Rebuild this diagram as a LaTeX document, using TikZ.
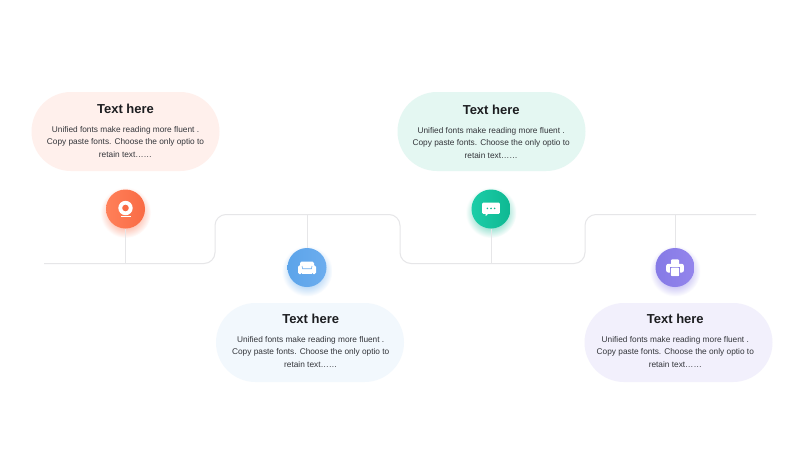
\documentclass[tikz,border=0pt]{standalone}
\usepackage{fontspec}
\setmainfont{Liberation Sans}
\usetikzlibrary{shapes.misc}
\definecolor{busgray}{HTML}{E6E6E8}
\definecolor{titleink}{HTML}{1C1D20}
\definecolor{bodyink}{HTML}{33353A}
\definecolor{pillred}{HTML}{FFF0EC}
\definecolor{pillblue}{HTML}{F2F8FD}
\definecolor{pillgreen}{HTML}{E4F7F2}
\definecolor{pillviolet}{HTML}{F2F0FC}
\definecolor{redlo}{HTML}{FF8059}
\definecolor{redhi}{HTML}{F96B45}
\definecolor{bluelo}{HTML}{5CA4EA}
\definecolor{bluehi}{HTML}{6CADEE}
\definecolor{greenlo}{HTML}{0EB892}
\definecolor{greenhi}{HTML}{1CCDA8}
\definecolor{violetlo}{HTML}{857AE6}
\definecolor{violethi}{HTML}{9485EC}
\tikzset{
  pill/.style={rounded rectangle,minimum width=188pt,minimum height=79pt,inner sep=0pt},
  titletext/.style={inner sep=0pt,text=titleink,font=\fontsize{13}{15}\selectfont\bfseries},
  bodytext/.style={inner sep=0pt,align=center,text=bodyink,font=\fontsize{8.3}{12.6}\selectfont},
  iconball/.style={circle,minimum size=39pt,inner sep=0pt,shading angle=45},
  busline/.style={draw=busgray,line width=1pt},
}
\begin{document}
\begin{tikzpicture}[x=1pt,y=-1pt]
  \fill[white] (0,0) rectangle (800,450);
  \useasboundingbox (0,0) rectangle (800,450);
  % pills
  \node[pill,fill=pillred] (pillA) at (125.5,131.5) {};
  \node[pill,fill=pillblue] (pillB) at (310,342.5) {};
  \node[pill,fill=pillgreen] (pillC) at (491.5,131.5) {};
  \node[pill,fill=pillviolet] (pillD) at (678.5,342.5) {};
  % titles and text
  \node[titletext] (titleA) at (125.5,108.5) {Text here};
  \node[titletext] (titleB) at (310.7,318.5) {Text here};
  \node[titletext] (titleC) at (491.2,109.5) {Text here};
  \node[titletext] (titleD) at (675.3,318.5) {Text here};
  \node[bodytext] (bodyA) at (125.5,142) {Unified fonts make reading more fluent .\\Copy paste fonts. Choose the only optio to\\retain text……};
  \node[bodytext] (bodyB) at (310.7,352) {Unified fonts make reading more fluent .\\Copy paste fonts. Choose the only optio to\\retain text……};
  \node[bodytext] (bodyC) at (491.2,143) {Unified fonts make reading more fluent .\\Copy paste fonts. Choose the only optio to\\retain text……};
  \node[bodytext] (bodyD) at (675.3,352) {Unified fonts make reading more fluent .\\Copy paste fonts. Choose the only optio to\\retain text……};
  % bus line
  \coordinate (busstart) at (44,263.5);
  \coordinate (turnA) at (215,263.5);
  \coordinate (turnB) at (215,214.5);
  \coordinate (turnC) at (400,214.5);
  \coordinate (turnD) at (400,263.5);
  \coordinate (turnE) at (585,263.5);
  \coordinate (turnF) at (585,214.5);
  \coordinate (busend) at (756,214.5);
  \coordinate (footA) at (125.5,263.5);
  \coordinate (footB) at (307,214.5);
  \coordinate (footC) at (491,263.5);
  \coordinate (footD) at (675,214.5);
  % halos
  \shade[inner color=redhi,outer color=white] (125.5,212.5) circle (25.5);
  \shade[inner color=bluelo,outer color=white] (307,271) circle (25.5);
  \shade[inner color=greenlo,outer color=white] (491,212.5) circle (25.5);
  \shade[inner color=violetlo,outer color=white] (675,271) circle (25.5);
  \draw[busline,rounded corners=11pt] (busstart) -- (turnA) -- (turnB) -- (turnC) -- (turnD) -- (turnE) -- (turnF) -- (busend);
  % balls
  \node[iconball,left color=redlo,right color=redhi] (iconA) at (125.5,209) {};
  \node[iconball,left color=bluelo,right color=bluehi] (iconB) at (307,267.5) {};
  \node[iconball,left color=greenhi,right color=greenlo] (iconC) at (491,209) {};
  \node[iconball,left color=violetlo,right color=violethi] (iconD) at (675,267.5) {};
  \draw[busline] (iconA) -- (footA);
  \draw[busline] (iconB) -- (footB);
  \draw[busline] (iconC) -- (footC);
  \draw[busline] (iconD) -- (footD);
  % webcam
  \begin{scope}[shift={(iconA)}]
    \fill[white] (0,-1) circle (7.2);
    \fill[redhi] (0,-1) circle (3.3);
    \fill[white] (-5,6.6) -- (5,6.6) -- (5,7.8) -- (-5,7.8) -- cycle;
  \end{scope}
  % sofa
  \begin{scope}[shift={(iconB)}]
    \fill[white,rounded corners=1.5pt] (-7,-6) rectangle (7,2);
    \fill[white,rounded corners=1.5pt] (-9,-2.2) rectangle (-4.8,6.5);
    \fill[white,rounded corners=1.5pt] (4.8,-2.2) rectangle (9,6.5);
    \fill[white] (-5,1.5) rectangle (5,6.5);
    \draw[bluehi,line width=.6pt] (-5,-1.5) -- (-4.4,1.2) -- (4.4,1.2) -- (5,-1.5);
  \end{scope}
  % speech bubble
  \begin{scope}[shift={(iconC)}]
    \fill[white,rounded corners=1pt] (-8.8,-6.3) rectangle (8.8,4.8);
    \fill[white] (-5.5,4.5) -- (-5.5,7.2) -- (-2.5,4.5) -- cycle;
    \fill[greenlo] (-3.6,-.6) circle (.9);
    \fill[greenlo] (0,-.6) circle (.9);
    \fill[greenlo] (3.6,-.6) circle (.9);
  \end{scope}
  % printer
  \begin{scope}[shift={(iconD)}]
    \fill[white,rounded corners=1pt] (-4,-8.2) rectangle (4,-2);
    \fill[white,rounded corners=2pt] (-8.8,-3.7) rectangle (8.8,5);
    \fill[violetlo] (-5.2,-.8) rectangle (5.2,9);
    \fill[white,rounded corners=.8pt] (-4.2,.2) rectangle (4.2,8.6);
  \end{scope}
\end{tikzpicture}
\end{document}
